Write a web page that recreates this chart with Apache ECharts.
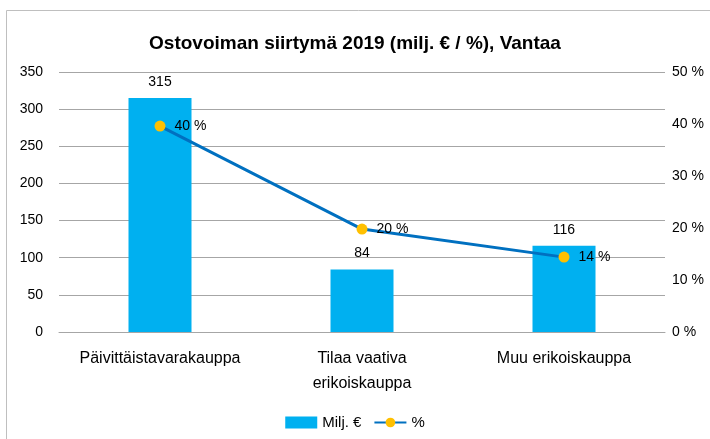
<!DOCTYPE html>
<html><head><meta charset="utf-8">
<script src="https://cdn.jsdelivr.net/npm/echarts@6/dist/echarts.min.js"></script>
<style>html,body{margin:0;padding:0;background:#fff}#c{width:710px;height:439px}</style>
</head><body><div id="c"></div>
<script>
const categories = ['Päivittäistavarakauppa', 'Tilaa vaativa\nerikoiskauppa', 'Muu erikoiskauppa'];
const milj = [315, 84, 116];
const pct = [0.396, 0.198, 0.144];
const pctLabels = ['40 %', '20 %', '14 %'];
const leftTicks = [0, 50, 100, 150, 200, 250, 300, 350];
const rightTicks = ['0 %', '10 %', '20 %', '30 %', '40 %', '50 %'];

const font = 'Liberation Sans';
const chart = echarts.init(document.getElementById('c'), null, {renderer: 'canvas'});
chart.setOption({
  animation: false,
  textStyle: {fontFamily: font},
  graphic: [{type: 'rect', shape: {x: 6.5, y: 10.5, width: 720, height: 440}, style: {fill: 'none', stroke: '#bfbfbf', lineWidth: 1}, z: -1}],
  title: {text: 'Ostovoiman siirtymä 2019 (milj. € / %), Vantaa', left: 'center', top: 29,
    textStyle: {fontFamily: font, fontSize: 19, fontWeight: 'bold', color: '#000'}},
  legend: {bottom: 4, left: 'center', itemGap: 12, itemWidth: 32, itemHeight: 12,
    textStyle: {fontFamily: font, fontSize: 15, color: '#000'},
    data: [{name: 'Milj. €', icon: 'rect'}, {name: '%'}]},
  grid: {left: 59, right: 45, top: 72, bottom: 107},
  xAxis: {type: 'category', data: categories,
    axisTick: {show: false}, axisLine: {lineStyle: {color: '#a6a6a6'}},
    axisLabel: {fontFamily: font, fontSize: 16, color: '#000', margin: 14, lineHeight: 25, interval: 0}},
  yAxis: [
    {type: 'value', min: 0, max: 350, interval: 50,
      axisLine: {show: false}, axisTick: {show: false},
      splitLine: {lineStyle: {color: '#a6a6a6'}},
      axisLabel: {fontFamily: font, fontSize: 14, color: '#000', margin: 16,
        formatter: v => leftTicks.includes(v) ? String(v) : ''}},
    {type: 'value', min: 0, max: 0.5, interval: 0.1,
      axisLine: {show: false}, axisTick: {show: false}, splitLine: {show: false},
      axisLabel: {fontFamily: font, fontSize: 14, color: '#000', margin: 7, align: 'left',
        formatter: v => rightTicks[Math.round(v * 10)]}}
  ],
  series: [
    {name: 'Milj. €', type: 'bar', data: milj, barWidth: 63, itemStyle: {color: '#00B0F0'},
      label: {show: true, position: 'top', distance: 9, fontFamily: font, fontSize: 14, color: '#000'}},
    {name: '%', type: 'line', yAxisIndex: 1, data: pct, symbol: 'circle', symbolSize: 11,
      lineStyle: {color: '#0070C0', width: 3}, itemStyle: {color: '#FFC000', borderWidth: 0},
      label: {show: true, position: 'right', distance: 9, fontFamily: font, fontSize: 14, color: '#000',
        formatter: p => pctLabels[p.dataIndex]}}
  ]
});
</script></body></html>
